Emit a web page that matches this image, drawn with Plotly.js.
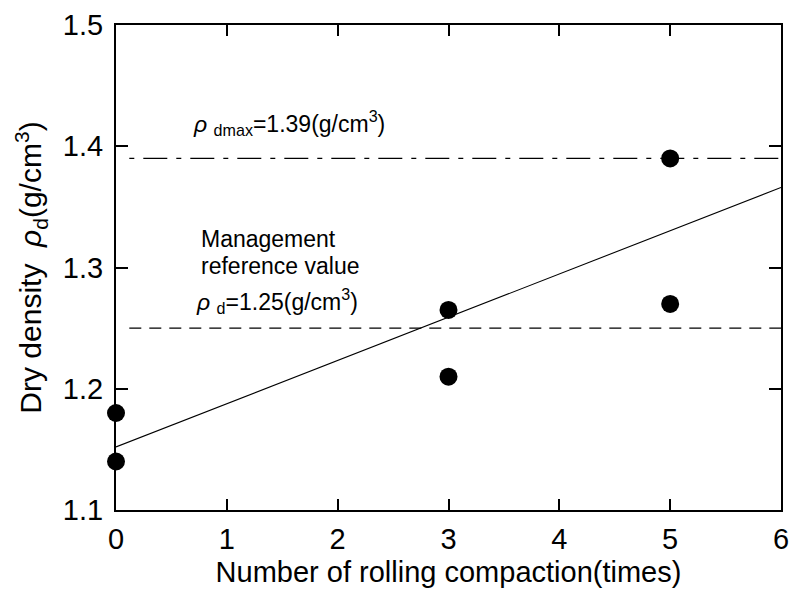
<!DOCTYPE html>
<html>
<head>
<meta charset="utf-8">
<script src="https://cdn.plot.ly/plotly-3.0.1.min.js"></script>
<style>html,body{margin:0;padding:0;background:#fff;}#chart{width:795px;height:591px;}</style>
</head>
<body>
<div id="chart"></div>
<script>
// Measured data
const rollingTimes = [0, 0, 3, 3, 5, 5];
const dryDensity = [1.18, 1.14, 1.265, 1.21, 1.39, 1.27];
// Regression line endpoints
const trendX = [0, 6];
const trendY = [1.152, 1.366];
// Reference lines
const refX = [0.12, 6];
const maxDensity = 1.39;
const mgmtDensity = 1.25;
const xTicks = [0, 1, 2, 3, 4, 5, 6];
const yTicks = [1.1, 1.2, 1.3, 1.4, 1.5];
const yTickLabels = ['1.1', '1.2', '1.3', '1.4', '1.5'];

const font = 'Arial, "Liberation Sans", sans-serif';

const traces = [
  {x: refX, y: refX.map(() => maxDensity), mode: 'lines', line: {color: '#000', width: 1.3, dash: '5px,9px,24px,9px'}, hoverinfo: 'skip'},
  {x: refX, y: refX.map(() => mgmtDensity), mode: 'lines', line: {color: '#000', width: 1.3, dash: '12px,8px'}, hoverinfo: 'skip'},
  {x: trendX, y: trendY, mode: 'lines', line: {color: '#000', width: 1.1}},
  {x: rollingTimes, y: dryDensity, mode: 'markers', marker: {color: '#000', size: 18}, cliponaxis: false}
];

const axisCommon = {
  showgrid: false, zeroline: false, showline: true, linecolor: '#000', linewidth: 2,
  mirror: 'allticks', ticks: 'inside', tickcolor: '#000', tickwidth: 2,
  tickfont: {family: font, size: 29, color: '#000'}
};

const layout = {
  width: 795, height: 591,
  margin: {l: 116, r: 14, t: 25, b: 81},
  paper_bgcolor: '#fff', plot_bgcolor: '#fff',
  showlegend: false,
  font: {family: font, color: '#000'},
  xaxis: Object.assign({}, axisCommon, {
    range: [0, 6], tickvals: xTicks, ticklen: 11, ticklabelstandoff: 2,
    title: {text: 'Number of rolling compaction(times)', font: {family: font, size: 29, color: '#000'}, standoff: 8}
  }),
  yaxis: Object.assign({}, axisCommon, {
    range: [1.1, 1.5], tickvals: yTicks, ticktext: yTickLabels, ticklen: 12, ticklabelstandoff: 5,
    title: {text: 'Dry density  <i>ρ</i><sub>d</sub>(g/cm<sup>3</sup>)', font: {family: font, size: 30, color: '#000'}, standoff: 12}
  }),
  annotations: [
    {x: 0.68, y: 1.419, xref: 'x', yref: 'y', xanchor: 'left', yanchor: 'middle', showarrow: false,
     text: '<i>ρ</i> <sub>dmax</sub>=1.39(g/cm<sup>3</sup>)', font: {family: font, size: 23, color: '#000'}},
    {x: 0.745, y: 1.3235, xref: 'x', yref: 'y', xanchor: 'left', yanchor: 'middle', showarrow: false, align: 'left',
     text: 'Management', font: {family: font, size: 23, color: '#000'}},
    {x: 0.745, y: 1.3012, xref: 'x', yref: 'y', xanchor: 'left', yanchor: 'middle', showarrow: false, align: 'left',
     text: 'reference value', font: {family: font, size: 23, color: '#000'}},
    {x: 0.7, y: 1.2575, xref: 'x', yref: 'y', xanchor: 'left', yanchor: 'bottom', showarrow: false, align: 'left',
     text: '<i>ρ</i> <sub>d</sub>=1.25(g/cm<sup>3</sup>)', font: {family: font, size: 23, color: '#000'}}
  ]
};

Plotly.newPlot('chart', traces, layout, {displayModeBar: false, staticPlot: true});
</script>
</body>
</html>
